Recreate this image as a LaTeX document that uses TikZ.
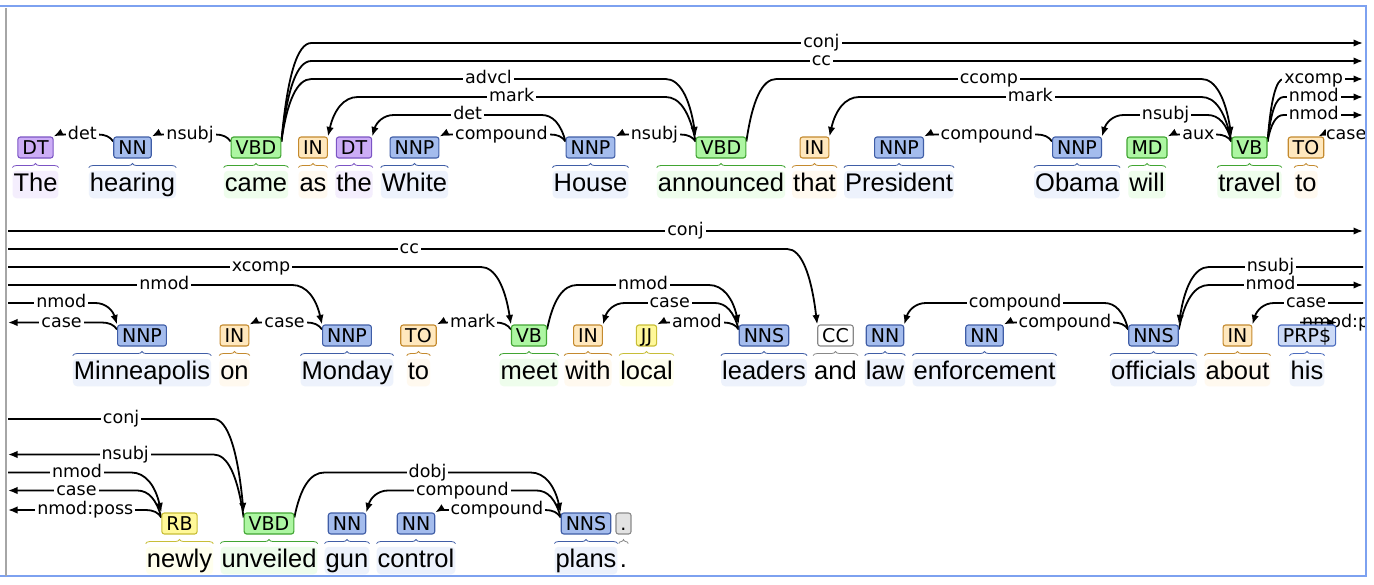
\documentclass[tikz,border=0pt]{standalone}
\usepackage{fontspec}
\newfontfamily\wordfont{Liberation Sans}
\newfontfamily\tagfont{DejaVu Sans}
\usetikzlibrary{positioning,calc,arrows.meta,decorations.pathreplacing}
\pgfdeclarelayer{arcs}
\pgfsetlayers{arcs,main}

\definecolor{dtfill}{HTML}{CCADF6}\definecolor{dtline}{HTML}{7B54C4}\definecolor{dtbg}{HTML}{F4EEFD}
\definecolor{nnfill}{HTML}{A4BCED}\definecolor{nnline}{HTML}{3F5DA6}\definecolor{nnbg}{HTML}{EDF2FC}
\definecolor{vbfill}{HTML}{ADF6A2}\definecolor{vbline}{HTML}{41A532}\definecolor{vbbg}{HTML}{EEFDEC}
\definecolor{prepfill}{HTML}{FFE8BE}\definecolor{prepline}{HTML}{C48A2E}\definecolor{prepbg}{HTML}{FFF9EF}
\definecolor{adjfill}{HTML}{FFF899}\definecolor{adjline}{HTML}{C8BE37}\definecolor{adjbg}{HTML}{FFFFEE}
\definecolor{ccfill}{HTML}{FFFFFF}\definecolor{ccline}{HTML}{888888}\definecolor{ccbg}{HTML}{FFFFFF}
\definecolor{prpfill}{HTML}{CCDAF6}\definecolor{prpline}{HTML}{4A6BBE}\definecolor{prpbg}{HTML}{EEF3FC}
\definecolor{puncfill}{HTML}{E3E3E3}\definecolor{puncline}{HTML}{8A8A8A}\definecolor{puncbg}{HTML}{FFFFFF}
\definecolor{frameblue}{HTML}{7DA1F0}

\tikzset{
  tagbox/.style={draw, rounded corners=2.5pt, line width=1.1pt, inner xsep=4.5pt, inner ysep=3.5pt,
    text height=14pt, text depth=0pt, font=\tagfont\fontsize{19}{19}\selectfont},
  wordbox/.style={rounded corners=4pt, inner xsep=1pt, inner ysep=1.5pt,
    text height=19pt, text depth=5.5pt, font=\wordfont\fontsize{25.5}{26}\selectfont},
  brc/.style={line width=0.8pt, decorate, decoration={brace, amplitude=4pt}},
  dep/.style={line width=1.8pt, -{Latex[length=9.5pt,width=7.5pt]}},
  lbl/.style={fill=white, inner xsep=2pt, inner ysep=1.5pt, text height=9.6pt, text depth=0pt,
    font=\tagfont\fontsize{17.5}{18}\selectfont},
  lblstyle/.style={},
  arcd/.store in=\arcD, arcd=30,
  lblpos/.store in=\lblpos, lblpos=0.5,
  dt/.style={fill=dtfill, draw=dtline}, dtw/.style={fill=dtbg},
  nn/.style={fill=nnfill, draw=nnline}, nnw/.style={fill=nnbg},
  vb/.style={fill=vbfill, draw=vbline}, vbw/.style={fill=vbbg},
  prep/.style={fill=prepfill, draw=prepline}, prepw/.style={fill=prepbg},
  adj/.style={fill=adjfill, draw=adjline}, adjw/.style={fill=adjbg},
  cc/.style={fill=ccfill, draw=ccline}, ccw/.style={fill=ccbg},
  prp/.style={fill=prpfill, draw=prpline}, prpw/.style={fill=prpbg},
  punc/.style={fill=puncfill, draw=puncline}, puncw/.style={fill=puncbg}
}

% head tag -> dependent tag, same row
\newcommand\deparc[5][]{%
  \draw[dep,#1] let \p1=([yshift=-5pt]#2), \p2=(#3),
      \n1={ifthenelse(\x2>\x1,1,-1)},
      \n2={min(\arcD,12+0.45*abs((\y1)-(#4pt)))},
      \n3={min(\arcD,12+0.45*abs((\y2)-(#4pt)))} in
    (\p1) .. controls ({\x1+0.2*\n1*\n2},{\y1+((#4pt)-(\y1))*2/3}) and ({\x1+0.53*\n1*\n2},#4pt) .. ({\x1+\n1*\n2},#4pt)
    -- node[lbl,lblstyle,pos=\lblpos] {#5} ({\x2-\n1*\n3},#4pt)
    .. controls ({\x2-0.53*\n1*\n3},#4pt) and ({\x2-0.2*\n1*\n3},{\y2+((#4pt)-(\y2))*2/3}) .. (\p2);}
% head tag -> row edge
\newcommand\depout[5][]{%
  \draw[dep,#1] let \p1=([yshift=-5pt]#2), \p2=(#3),
      \n1={ifthenelse(\x2>\x1,1,-1)},
      \n2={min(\arcD,12+0.45*abs((\y1)-(#4pt)))} in
    (\p1) .. controls ({\x1+0.2*\n1*\n2},{\y1+((#4pt)-(\y1))*2/3}) and ({\x1+0.53*\n1*\n2},#4pt) .. ({\x1+\n1*\n2},#4pt)
    -- node[lbl,lblstyle,pos=\lblpos] {#5} (\x2,#4pt);}
% row edge -> dependent tag
\newcommand\depin[5][]{%
  \draw[dep,#1] let \p1=(#2), \p2=(#3),
      \n1={ifthenelse(\x2>\x1,1,-1)},
      \n3={min(\arcD,12+0.45*abs((\y2)-(#4pt)))} in
    (\x1,#4pt) -- node[lbl,lblstyle,pos=\lblpos] {#5} ({\x2-\n1*\n3},#4pt)
    .. controls ({\x2-0.53*\n1*\n3},#4pt) and ({\x2-0.2*\n1*\n3},{\y2+((#4pt)-(\y2))*2/3}) .. (\p2);}

\begin{document}
\begin{tikzpicture}[x=1pt,y=1pt]
\useasboundingbox (0,0) rectangle (1374,-584);
\coordinate (edgeL) at (8,0);
\coordinate (edgeR) at (1363,0);

% row 1
\foreach \nm/\px/\tg/\wrd/\cl in {The/35.5/DT/The/dt, hearing/132.5/NN/hearing/nn, came/256/VBD/came/vb,
    as/313/IN/as/prep, the/354/DT/the/dt, White/414.5/NNP/White/nn, House/590.5/NNP/House/nn,
    announced/721/VBD/announced/vb, that/814.5/IN/that/prep, President/899/NNP/President/nn,
    Obama/1077/NNP/Obama/nn, will/1147/MD/will/vb, travel/1249.5/VB/travel/vb, toA/1306/TO/to/prep}
  {\node[tagbox,\cl] (t\nm) at (\px,-147.5) {\tg};
   \node[wordbox,\cl w,below=12pt of t\nm] (w\nm) {\wrd};
   \draw[brc,draw=\cl line] ([yshift=3pt]w\nm.north west) -- ([yshift=3pt]w\nm.north east);}
% row 2
\foreach \nm/\px/\tg/\wrd/\cl in {Minneapolis/142/NNP/Minneapolis/nn, on/234.5/IN/on/prep,
    Monday/347/NNP/Monday/nn, toB/418.5/TO/to/prep, meet/529/VB/meet/vb, with/588/IN/with/prep,
    local/646.5/JJ/local/adj, leaders/764/NNS/leaders/nn, and/835.5/CC/and/cc, law/885/NN/law/nn,
    enforcement/984.5/NN/enforcement/nn, officials/1153.5/NNS/officials/nn, about/1237.5/IN/about/prep,
    his/1307/PRP\$/his/prp}
  {\node[tagbox,\cl] (t\nm) at (\px,-335.5) {\tg};
   \node[wordbox,\cl w,below=12pt of t\nm] (w\nm) {\wrd};
   \draw[brc,draw=\cl line] ([yshift=3pt]w\nm.north west) -- ([yshift=3pt]w\nm.north east);}
% row 3
\foreach \nm/\px/\tg/\wrd/\cl in {newly/179.5/RB/newly/adj, unveiled/269/VBD/unveiled/vb, gun/347/NN/gun/nn,
    control/416/NN/control/nn, plans/586/NNS/plans/nn, dot/623.5/././punc}
  {\node[tagbox,\cl] (t\nm) at (\px,-523.5) {\tg};
   \node[wordbox,\cl w,below=12pt of t\nm] (w\nm) {\wrd};
   \draw[brc,draw=\cl line] ([yshift=3pt]w\nm.north west) -- ([yshift=3pt]w\nm.north east);}

\begin{pgfonlayer}{arcs}
\fill[white] (0,0) rectangle (1374,-584);
% row 1
\deparc{thearing.north west}{tThe.north east}{-134.5}{det}
\deparc{tcame.north west}{thearing.north east}{-134.5}{nsubj}
\depout[lblpos=0.485]{tcame.north east}{edgeR}{-43}{conj}
\depout[lblpos=0.485]{tcame.north east}{edgeR}{-61}{cc}
\deparc{tcame.north east}{tannounced.north west}{-79}{advcl}
\deparc{tannounced.north west}{tas.north east}{-97}{mark}
\deparc{tHouse.north west}{tthe.north east}{-115}{det}
\deparc{tHouse.north west}{tWhite.north east}{-134.5}{compound}
\deparc{tannounced.north west}{tHouse.north east}{-134.5}{nsubj}
\deparc{tannounced.north east}{ttravel.north west}{-79}{ccomp}
\deparc{ttravel.north west}{tthat.north east}{-97}{mark}
\deparc{tObama.north west}{tPresident.north east}{-134.5}{compound}
\deparc{ttravel.north west}{tObama.north east}{-115}{nsubj}
\deparc{ttravel.north west}{twill.north east}{-134.5}{aux}
\depout[arcd=16,lblpos=0.38]{ttravel.north east}{edgeR}{-79}{xcomp}
\depout[arcd=16,lblpos=0.38]{ttravel.north east}{edgeR}{-97}{nmod}
\depout[arcd=16,lblpos=0.38]{ttravel.north east}{edgeR}{-115}{nmod}
\depin[lblpos=0.53,lblstyle/.style={inner xsep=0.5pt}]{edgeR}{[xshift=-6pt]ttoA.north east}{-134.5}{case}
% row 2
\draw[dep] let \p1=(edgeL), \p2=(edgeR) in (\x1,-231pt) -- node[lbl] {conj} (\x2,-231pt);
\depin[lblpos=0.515]{edgeL}{tand.north west}{-249}{cc}
\depin[lblpos=0.535]{edgeL}{tmeet.north west}{-267}{xcomp}
\depin[lblpos=0.55]{edgeL}{tMonday.north west}{-285}{nmod}
\depin[lblpos=0.61]{edgeL}{tMinneapolis.north west}{-303}{nmod}
\depout[lblpos=0.43]{tMinneapolis.north west}{edgeL}{-322.5}{case}
\deparc{tMonday.north west}{ton.north east}{-322.5}{case}
\deparc{tmeet.north west}{ttoB.north east}{-322.5}{mark}
\deparc{tmeet.north east}{tleaders.north west}{-285}{nmod}
\deparc{tleaders.north west}{twith.north east}{-303}{case}
\deparc{tleaders.north west}{tlocal.north east}{-322.5}{amod}
\deparc{tofficials.north west}{tlaw.north east}{-303}{compound}
\deparc{tofficials.north west}{tenforcement.north east}{-322.5}{compound}
\depin[lblpos=0.6]{edgeR}{tofficials.north east}{-267}{nsubj}
\depout[lblpos=0.4]{tofficials.north east}{edgeR}{-285}{nmod}
\depin[lblpos=0.64]{edgeR}{tabout.north east}{-303}{case}
\begin{scope}
  \clip (0,0) rectangle (1365,-584);
  \node[lbl,fill=none,anchor=west] (poss) at (1300,-322.5) {nmod:poss};
\end{scope}
\draw[dep] (poss.west) -- ([xshift=1pt,yshift=2pt]this.north east);
% row 3
\depin[lblpos=0.55]{edgeL}{tunveiled.north west}{-419}{conj}
\depout[lblpos=0.43]{tunveiled.north west}{edgeL}{-454.5}{nsubj}
\depin[lblpos=0.56]{edgeL}{tnewly.north west}{-472.5}{nmod}
\depout[lblpos=0.47]{tnewly.north west}{edgeL}{-490.5}{case}
\depout[lblpos=0.44]{tnewly.north west}{edgeL}{-510}{nmod:poss}
\deparc{tunveiled.north east}{tplans.north west}{-472.5}{dobj}
\deparc{tplans.north west}{tgun.north east}{-490.5}{compound}
\deparc{tplans.north west}{tcontrol.north east}{-510}{compound}
\end{pgfonlayer}

\draw[frameblue,line width=2pt] (0,-6) -- (1366,-6) -- (1366,-576) -- (0,-576);
\draw[gray!70,line width=1.5pt] (6,-8) -- (6,-576);
\end{tikzpicture}
\end{document}
